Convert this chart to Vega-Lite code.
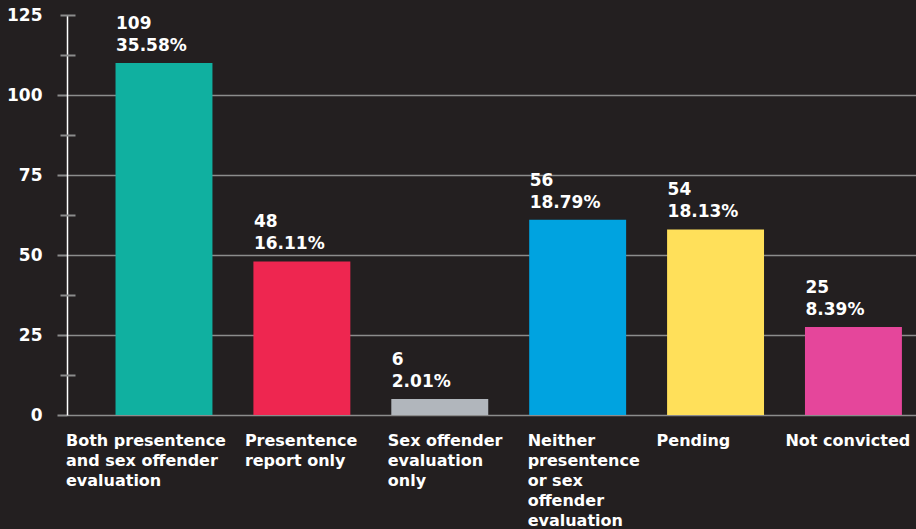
{
  "$schema": "https://vega.github.io/schema/vega-lite/v6.json",
  "width": 849,
  "height": 400,
  "autosize": {"type": "none"},
  "padding": {"left": 67, "top": 15, "right": 0, "bottom": 114},
  "background": "#231f20",
  "config": {
    "view": {"stroke": null},
    "font": "DejaVu Sans",
    "text": {"font": "DejaVu Sans"}
  },
  "data": {
    "values": [
      {"category": "Both presentence\nand sex offender\nevaluation", "height": 110, "label": "109\n35.58%"},
      {"category": "Presentence\nreport only", "height": 48, "label": "48\n16.11%"},
      {"category": "Sex offender\nevaluation\nonly", "height": 5, "label": "6\n2.01%"},
      {"category": "Neither\npresentence\nor sex\noffender\nevaluation", "height": 61, "label": "56\n18.79%"},
      {"category": "Pending", "height": 58, "label": "54\n18.13%"},
      {"category": "Not convicted", "height": 27.5, "label": "25\n8.39%"}
    ]
  },
  "encoding": {
    "x": {
      "field": "category",
      "type": "nominal",
      "sort": null,
      "scale": {"paddingInner": 0.297, "paddingOuter": 0.227, "align": 0.775},
      "axis": {
        "title": null,
        "domain": false,
        "ticks": false,
        "grid": false,
        "labelAngle": 0,
        "labelAlign": "left",
        "labelBaseline": "top",
        "labelPadding": 17,
        "labelOffset": {
          "condition": [
            {"test": "indexof(datum.value, 'Both') == 0", "value": -98},
            {"test": "indexof(datum.value, 'Presentence') == 0", "value": -57},
            {"test": "indexof(datum.value, 'Sex') == 0", "value": -52},
            {"test": "indexof(datum.value, 'Neither') == 0", "value": -50},
            {"test": "indexof(datum.value, 'Pending') == 0", "value": -59}
          ],
          "value": -68
        },
        "labelFontSize": 16,
        "labelFontWeight": "bold",
        "labelColor": "#ffffff",
        "labelLineHeight": 20,
        "labelLimit": 0,
        "labelOverlap": false,
        "labelBound": false,
        "labelExpr": "split(datum.value, '\\n')"
      }
    }
  },
  "layer": [
    {
      "mark": {"type": "bar"},
      "encoding": {
        "y": {
          "field": "height",
          "type": "quantitative",
          "scale": {"domain": [0, 125], "nice": false},
          "axis": {
            "title": null,
            "values": [0, 25, 50, 75, 100, 125],
            "domain": true,
            "domainColor": "#ffffff",
            "domainWidth": 1.5,
            "ticks": true,
            "tickSize": 10,
            "tickWidth": 2,
            "tickColor": "#8c8c8c",
            "tickOpacity": {"condition": {"test": "datum.value == 125", "value": 0}, "value": 1},
            "grid": true,
            "gridColor": "#8c8c8c",
            "gridWidth": 1.5,
            "gridOpacity": {"condition": {"test": "datum.value == 125", "value": 0}, "value": 1},
            "labelPadding": 15,
            "labelFontSize": 17,
            "labelFontWeight": "bold",
            "labelColor": "#ffffff",
            "labelBound": false,
            "labelOverlap": false
          }
        },
        "color": {
          "field": "category",
          "type": "nominal",
          "sort": null,
          "legend": null,
          "scale": {"range": ["#10b0a0", "#ee2650", "#b1b6bc", "#00a3e0", "#ffe05a", "#e5469b"]}
        }
      }
    },
    {
      "mark": {
        "type": "text",
        "align": "left",
        "baseline": "bottom",
        "dx": -48,
        "dy": -30,
        "lineBreak": "\n",
        "lineHeight": 22,
        "fontSize": 17,
        "fontWeight": "bold",
        "color": "#ffffff"
      },
      "encoding": {
        "y": {"field": "height", "type": "quantitative"},
        "text": {"field": "label"}
      }
    },
    {
      "mark": {"type": "bar", "opacity": 0},
      "encoding": {
        "y": {
          "field": "height",
          "type": "quantitative",
          "axis": {
            "orient": "left",
            "title": null,
            "values": [12.5, 37.5, 62.5, 87.5, 112.5, 125],
            "domain": false,
            "labels": false,
            "grid": false,
            "ticks": true,
            "tickSize": 15,
            "tickWidth": 2,
            "tickColor": "#8c8c8c",
            "offset": -8
          }
        }
      }
    }
  ],
  "resolve": {"axis": {"y": "independent"}}
}
